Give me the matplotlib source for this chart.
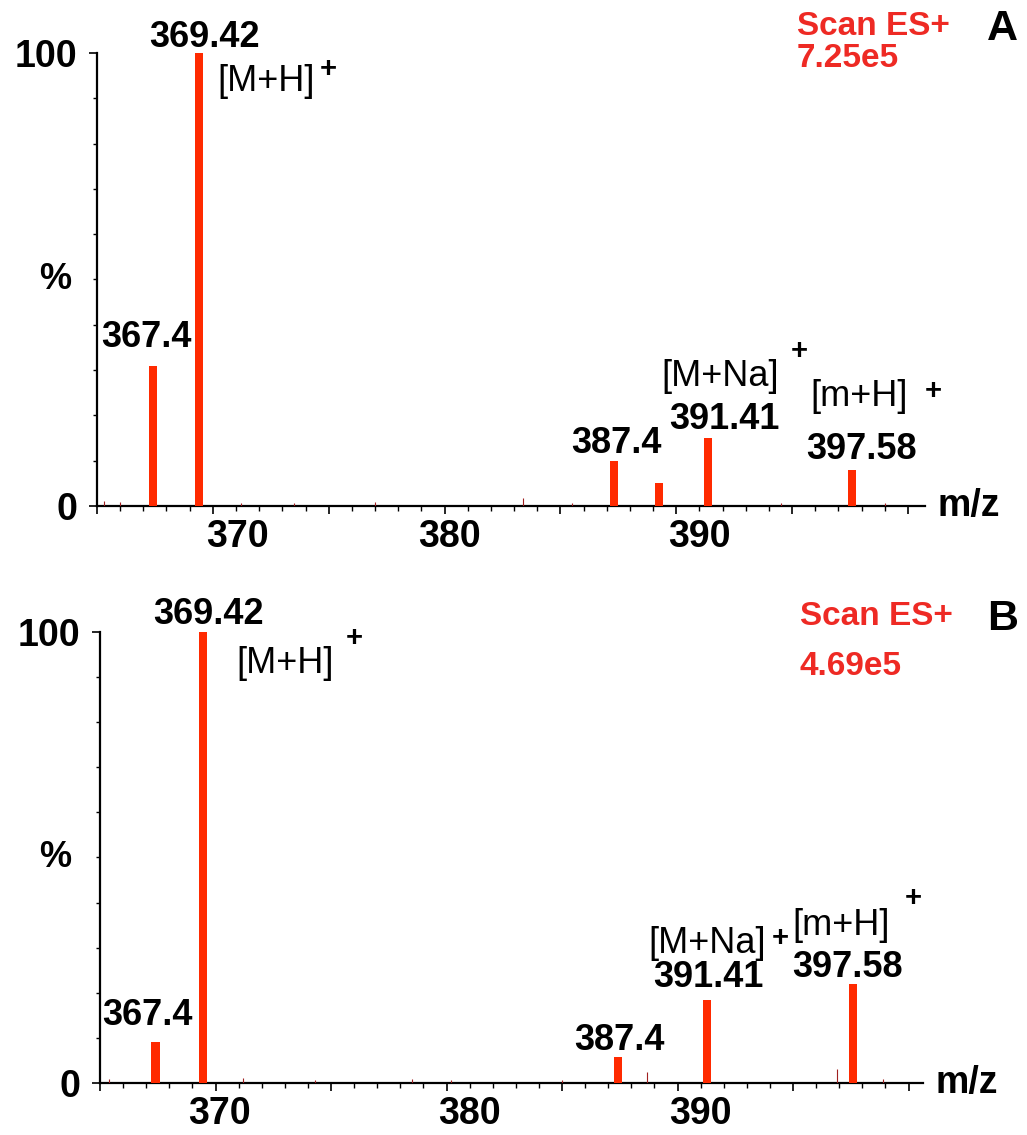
import matplotlib
matplotlib.use("Agg")
import matplotlib.pyplot as plt
from matplotlib.ticker import MultipleLocator, FixedLocator

plt.rcParams['font.family'] = ['Liberation Sans', 'DejaVu Sans']

RED = '#ff2a00'
TXT_RED = '#ee2a24'

# panel A: main peaks (m/z, relative intensity %)
mz_a = [367.40, 369.42, 387.31, 389.26, 391.37, 397.58]
int_a = [31, 100, 10, 5, 15, 8]
# small baseline peaks
noise_mz_a = [365.3, 366.0, 371.2, 373.5, 377.0, 383.4, 385.5, 394.5, 399.0]
noise_int_a = [1.2, 0.8, 0.7, 0.6, 0.8, 1.8, 0.6, 0.7, 0.6]

# panel B
mz_b = [367.40, 369.44, 387.42, 391.27, 397.60]
int_b = [9, 100, 5.8, 18.4, 22]
noise_mz_b = [365.4, 371.2, 374.3, 378.5, 380.2, 385.0, 388.7, 396.9, 398.9]
noise_int_b = [1.0, 1.2, 0.6, 0.8, 0.6, 0.7, 2.5, 3.0, 0.8]

# peak labels: (text, x, y, weight)
labels_a = [("369.42", 369.64, 103.5, 'bold'), ("367.4", 367.14, 37.1, 'bold'),
            ("387.4", 387.41, 13.7, 'bold'), ("391.41", 392.06, 19.0, 'bold'),
            ("397.58", 398.0, 12.4, 'bold'),
            ("[M+H]", 372.3, 93.6, 'normal'), ("[M+Na]", 391.9, 28.5, 'normal'),
            ("[m+H]", 397.9, 24.1, 'normal')]
plus_a = [(375.0, 96.4), (395.3, 34.2), (401.1, 25.3)]
labels_b = [("369.42", 369.70, 103.8, 'bold'), ("367.4", 367.05, 14.9, 'bold'),
            ("387.4", 387.5, 9.5, 'bold'), ("391.41", 391.32, 23.3, 'bold'),
            ("397.58", 397.34, 25.7, 'bold'),
            ("[M+H]", 373.0, 93.1, 'normal'), ("[M+Na]", 391.3, 31.0, 'normal'),
            ("[m+H]", 397.08, 35.0, 'normal')]
plus_b = [(376.0, 98.6), (394.45, 32.2), (400.2, 41.0)]

# header text: x, baseline of "Scan ES+", baseline of count
head_a = (395.2, 104.0, 96.9)
head_b = (395.3, 101.6, 90.5)

xtick_vals = ['370', '380', '390']
xtick_pos_a = [371.08, 380.21, 390.99]
xtick_pos_b = [370.17, 381.0, 390.97]

fig = plt.figure(figsize=(10.27, 11.35), dpi=100)
ax_a = fig.add_axes([0.0944, 0.5542, 0.8062, 0.3991])
ax_b = fig.add_axes([0.0974, 0.0458, 0.8014, 0.3974])


def draw_panel(ax, mz, inten, nmz, nint, labels, plus, tpos, xmax, head, scan, letter, count, pct_x):
    ax.bar(mz, inten, width=0.35, color=RED, zorder=3, clip_on=False)
    ax.vlines(nmz, 0, nint, color='#a02020', lw=0.8, zorder=3)
    ax.set_xlim(365, xmax)
    ax.set_ylim(0, 100)
    for s in ['top', 'right']:
        ax.spines[s].set_visible(False)
    for s in ['left', 'bottom']:
        ax.spines[s].set_linewidth(1.6)
    ax.xaxis.set_major_locator(MultipleLocator(5))
    ax.xaxis.set_minor_locator(MultipleLocator(1))
    ax.tick_params(axis='x', which='major', length=6, width=1.2, labelbottom=False)
    ax.tick_params(axis='x', which='minor', length=3.5, width=1.0)
    ax.yaxis.set_major_locator(FixedLocator([0, 100]))
    ax.yaxis.set_minor_locator(MultipleLocator(10))
    ax.set_yticklabels(['0', '100'])
    ax.tick_params(axis='y', which='major', length=6, width=1.2, pad=8, labelsize=27)
    ax.tick_params(axis='y', which='minor', length=3, width=1.0)
    for t in ax.get_yticklabels():
        t.set_fontweight('bold')
    for lab, x in zip(xtick_vals, tpos):
        ax.annotate(lab, (x, 0), xycoords=ax.get_xaxis_transform(), xytext=(0, -22),
                    textcoords='offset points', ha='center', va='center',
                    fontsize=27, fontweight='bold')
    for txt, x, y, w in labels:
        ax.text(x, y, txt, ha='center', va='center', fontsize=26, fontweight=w)
    for x, y in plus:
        ax.text(x, y, '+', ha='center', va='center', fontsize=21, fontweight='bold')
    ax.text(pct_x, 50, '%', transform=ax.get_yaxis_transform(), ha='center', va='center',
            fontsize=26, fontweight='bold')
    ax.text(1.015, 0, 'm/z', transform=ax.transAxes, ha='left', va='center',
            fontsize=27, fontweight='bold')
    hx, hy1, hy2 = head
    ax.text(hx, hy1, scan, ha='left', va='baseline', fontsize=24,
            fontweight='bold', color=TXT_RED)
    ax.text(403.4, hy1 - 1.2, letter, ha='left', va='baseline', fontsize=31, fontweight='bold')
    ax.text(hx, hy2, count, ha='left', va='baseline', fontsize=24,
            fontweight='bold', color=TXT_RED)


draw_panel(ax_a, mz_a, int_a, noise_mz_a, noise_int_a, labels_a, plus_a,
           xtick_pos_a, 400.73, head_a, 'Scan ES+', 'A', '7.25e5', -0.051)
draw_panel(ax_b, mz_b, int_b, noise_mz_b, noise_int_b, labels_b, plus_b,
           xtick_pos_b, 400.63, head_b, 'Scan ES+', 'B', '4.69e5', -0.055)

fig.savefig('out.png', dpi=100)
